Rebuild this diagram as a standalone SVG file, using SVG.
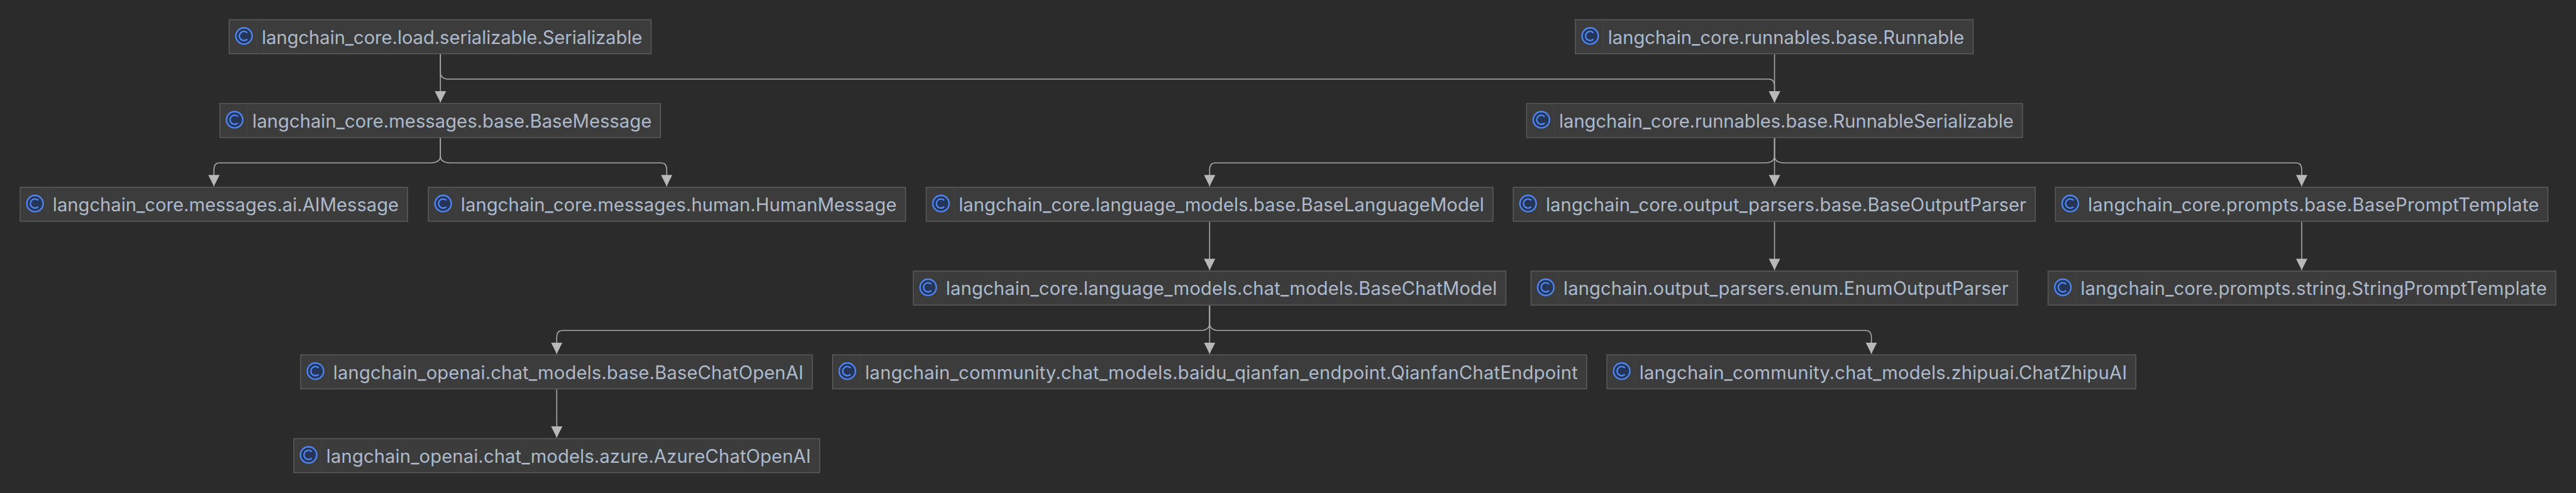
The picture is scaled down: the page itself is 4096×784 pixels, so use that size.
<svg xmlns="http://www.w3.org/2000/svg" width="4096" height="784" viewBox="0 0 4096 784">
<style>
.b{fill:#3c3c3c;stroke:#5a5a5a;stroke-width:2}
.d{stroke:#424242;stroke-width:1.5}
.i{fill:#243558;stroke:#4f86f2;stroke-width:3}
.c{fill:none;stroke:#4f86f2;stroke-width:3}
.t{font-family:Inter,"Liberation Sans",sans-serif;font-size:37.2px;fill:#adbacb}
.e{fill:none;stroke:#ababab;stroke-width:2;marker-end:url(#a)}
</style>
<defs>
<marker id="a" markerUnits="userSpaceOnUse" markerWidth="24" markerHeight="24" refX="23" refY="12" orient="auto"><path d="M0 0.5L23 12L0 23.5Z" fill="#b8b8b8"/></marker>
<g id="ic"><circle cx="30" cy="33" r="16.5" class="i"/><path d="M36.6 26.5A9.3 9.3 0 1 0 36.6 39.5" class="c"/></g>
</defs>
<rect width="4096" height="784" fill="#2b2b2b"/>
<g transform="scale(0.78377)">
<g id="connectors">
<path class="e" d="M893.5 110V147Q893.5 160.5 912 160.5H3588Q3600 160.5 3600 175V208"/>
<path class="e" d="M893.5 110V208"/>
<path class="e" d="M3600 110V208"/>
<path class="e" d="M893.5 280V316Q893.5 330.5 873 330.5H446Q434 330.5 434 344V378"/>
<path class="e" d="M893.5 280V316Q893.5 330.5 914 330.5H1340.5Q1352.5 330.5 1352.5 344V378"/>
<path class="e" d="M3600 280V316Q3600 330.5 3580 330.5H2466Q2454 330.5 2454 344V378"/>
<path class="e" d="M3600 280V378"/>
<path class="e" d="M3600 280V316Q3600 330.5 3620 330.5H4657.5Q4669.5 330.5 4669.5 344V378"/>
<path class="e" d="M2454 450V548"/>
<path class="e" d="M3600 450V548"/>
<path class="e" d="M4669.5 450V548"/>
<path class="e" d="M2454 620V656Q2454 670.5 2434 670.5H1141.5Q1129.5 670.5 1129.5 684V718"/>
<path class="e" d="M2454 620V718"/>
<path class="e" d="M2454 620V656Q2454 670.5 2474 670.5H3784.5Q3796.5 670.5 3796.5 684V718"/>
<path class="e" d="M1129.5 790V888"/>
</g>
<g id="n1" transform="translate(465,40)"><rect class="b" width="856" height="69"/><path class="d" d="M56 1V68"/><use href="#ic"/><text class="t" x="66" y="49" textLength="772">langchain_core.load.serializable.Serializable</text></g>
<g id="n2" transform="translate(3196,40)"><rect class="b" width="807" height="69"/><path class="d" d="M56 1V68"/><use href="#ic"/><text class="t" x="66" y="49" textLength="723">langchain_core.runnables.base.Runnable</text></g>
<g id="n3" transform="translate(446,210)"><rect class="b" width="894" height="69"/><path class="d" d="M56 1V68"/><use href="#ic"/><text class="t" x="66" y="49" textLength="810">langchain_core.messages.base.BaseMessage</text></g>
<g id="n4" transform="translate(3097,210)"><rect class="b" width="1006" height="69"/><path class="d" d="M56 1V68"/><use href="#ic"/><text class="t" x="66" y="49" textLength="922">langchain_core.runnables.base.RunnableSerializable</text></g>
<g id="n5" transform="translate(41,380)"><rect class="b" width="786" height="69"/><path class="d" d="M56 1V68"/><use href="#ic"/><text class="t" x="66" y="49" textLength="702">langchain_core.messages.ai.AIMessage</text></g>
<g id="n6" transform="translate(869,380)"><rect class="b" width="968" height="69"/><path class="d" d="M56 1V68"/><use href="#ic"/><text class="t" x="66" y="49" textLength="884">langchain_core.messages.human.HumanMessage</text></g>
<g id="n7" transform="translate(1879,380)"><rect class="b" width="1150" height="69"/><path class="d" d="M56 1V68"/><use href="#ic"/><text class="t" x="66" y="49" textLength="1066">langchain_core.language_models.base.BaseLanguageModel</text></g>
<g id="n8" transform="translate(3070,380)"><rect class="b" width="1059" height="69"/><path class="d" d="M56 1V68"/><use href="#ic"/><text class="t" x="66" y="49" textLength="975">langchain_core.output_parsers.base.BaseOutputParser</text></g>
<g id="n9" transform="translate(4170,380)"><rect class="b" width="999" height="69"/><path class="d" d="M56 1V68"/><use href="#ic"/><text class="t" x="66" y="49" textLength="915">langchain_core.prompts.base.BasePromptTemplate</text></g>
<g id="n10" transform="translate(1853,550)"><rect class="b" width="1202" height="69"/><path class="d" d="M56 1V68"/><use href="#ic"/><text class="t" x="66" y="49" textLength="1118">langchain_core.language_models.chat_models.BaseChatModel</text></g>
<g id="n11" transform="translate(3106,550)"><rect class="b" width="987" height="69"/><path class="d" d="M56 1V68"/><use href="#ic"/><text class="t" x="66" y="49" textLength="903">langchain.output_parsers.enum.EnumOutputParser</text></g>
<g id="n12" transform="translate(4155,550)"><rect class="b" width="1030" height="69"/><path class="d" d="M56 1V68"/><use href="#ic"/><text class="t" x="66" y="49" textLength="946">langchain_core.prompts.string.StringPromptTemplate</text></g>
<g id="n13" transform="translate(610,720)"><rect class="b" width="1038" height="69"/><path class="d" d="M56 1V68"/><use href="#ic"/><text class="t" x="66" y="49" textLength="954">langchain_openai.chat_models.base.BaseChatOpenAI</text></g>
<g id="n14" transform="translate(1689,720)"><rect class="b" width="1530" height="69"/><path class="d" d="M56 1V68"/><use href="#ic"/><text class="t" x="66" y="49" textLength="1446">langchain_community.chat_models.baidu_qianfan_endpoint.QianfanChatEndpoint</text></g>
<g id="n15" transform="translate(3260,720)"><rect class="b" width="1073" height="69"/><path class="d" d="M56 1V68"/><use href="#ic"/><text class="t" x="66" y="49" textLength="989">langchain_community.chat_models.zhipuai.ChatZhipuAI</text></g>
<g id="n16" transform="translate(596,890)"><rect class="b" width="1067" height="69"/><path class="d" d="M56 1V68"/><use href="#ic"/><text class="t" x="66" y="49" textLength="983">langchain_openai.chat_models.azure.AzureChatOpenAI</text></g>
</g>
</svg>
